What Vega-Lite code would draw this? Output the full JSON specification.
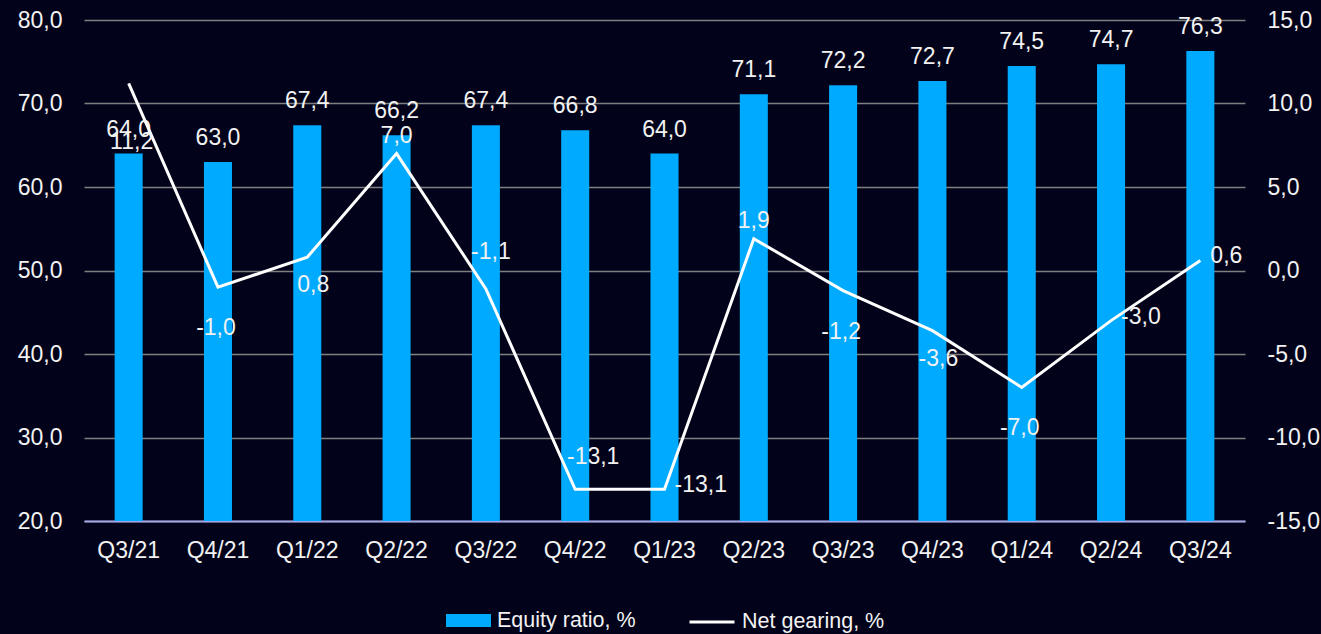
{
  "$schema": "https://vega.github.io/schema/vega-lite/v6.json",
  "autosize": {"type": "none"},
  "width": 1161,
  "height": 501,
  "padding": {"left": 84, "top": 20, "right": 76, "bottom": 113},
  "background": "#02031a",
  "config": {
    "view": {"stroke": null},
    "locale": {"number": {"decimal": ",", "thousands": " ", "grouping": [3], "currency": ["", ""], "minus": "-"}},
    "font": "Liberation Sans",
    "axis": {"labelFont": "Liberation Sans", "labelFontSize": 23, "labelColor": "#f2f2f2", "ticks": false, "title": null},
    "text": {"font": "Liberation Sans", "fontSize": 23, "fill": "#f2f2f2"},
    "legend": {"labelFont": "Liberation Sans", "labelFontSize": 21.5, "labelColor": "#f2f2f2", "title": null, "orient": "none"}
  },
  "data": {"values": [
    {"q": "Q3/21", "equity": 64.0, "gearing": 11.2},
    {"q": "Q4/21", "equity": 63.0, "gearing": -1.0},
    {"q": "Q1/22", "equity": 67.4, "gearing": 0.8},
    {"q": "Q2/22", "equity": 66.2, "gearing": 7.0},
    {"q": "Q3/22", "equity": 67.4, "gearing": -1.1},
    {"q": "Q4/22", "equity": 66.8, "gearing": -13.1},
    {"q": "Q1/23", "equity": 64.0, "gearing": -13.1},
    {"q": "Q2/23", "equity": 71.1, "gearing": 1.9},
    {"q": "Q3/23", "equity": 72.2, "gearing": -1.2},
    {"q": "Q4/23", "equity": 72.7, "gearing": -3.6},
    {"q": "Q1/24", "equity": 74.5, "gearing": -7.0},
    {"q": "Q2/24", "equity": 74.7, "gearing": -3.0},
    {"q": "Q3/24", "equity": 76.3, "gearing": 0.6}
  ]},
  "encoding": {
    "x": {"field": "q", "type": "ordinal", "sort": null,
      "scale": {"paddingInner": 0.686, "paddingOuter": 0.343},
      "axis": {"labelAngle": 0, "labelPadding": 18, "domainColor": "#a3a6e6", "domainWidth": 2, "grid": false}}
  },
  "layer": [
    {
      "encoding": {
        "y": {"field": "equity", "type": "quantitative",
          "scale": {"domain": [20, 80], "nice": false, "zero": false},
          "axis": {"orient": "left", "values": [20, 30, 40, 50, 60, 70, 80], "format": ".1f", "labelPadding": 22, "domain": false, "grid": true, "gridColor": "#7f7f7f", "gridWidth": 1.3}}
      },
      "layer": [
        {"mark": {"type": "bar", "clip": true},
         "encoding": {
           "y2": {"datum": 20},
           "fill": {"datum": "Equity ratio, %", "type": "nominal",
           "scale": {"range": ["#00aaff"]},
           "legend": {"legendX": 362, "legendY": 578, "symbolType": "M-1,-0.29h2v0.58h-2z", "symbolSize": 2025, "symbolStrokeWidth": 0, "labelOffset": 6}}}},
        {"mark": {"type": "text", "baseline": "alphabetic", "dy": -17},
         "encoding": {"text": {"field": "equity", "type": "quantitative", "format": ".1f"}}}
      ]
    },
    {
      "encoding": {
        "y": {"field": "gearing", "type": "quantitative",
          "scale": {"domain": [-15, 15], "nice": false, "zero": false},
          "axis": {"orient": "right", "values": [-15, -10, -5, 0, 5, 10, 15], "format": ".1f", "labelPadding": 22, "domain": false, "grid": false}}
      },
      "layer": [
        {"mark": {"type": "line", "strokeWidth": 3, "strokeJoin": "miter"},
         "encoding": {"stroke": {"datum": "Net gearing, %", "type": "nominal",
           "scale": {"range": ["#ffffff"]},
           "legend": {"legendX": 604, "legendY": 578, "symbolType": "stroke", "symbolSize": 2025, "symbolStrokeWidth": 3, "labelOffset": 6}}}},
        {"transform": [{"filter": {"field": "q", "oneOf": ["Q4/21", "Q3/23", "Q1/24"]}}],
         "mark": {"type": "text", "baseline": "middle", "dy": 41, "dx": -2},
         "encoding": {"text": {"field": "gearing", "type": "quantitative", "format": ".1f"}}},
        {"transform": [{"filter": {"field": "q", "oneOf": ["Q1/22", "Q4/23"]}}],
         "mark": {"type": "text", "baseline": "middle", "dy": 28, "dx": 6},
         "encoding": {"text": {"field": "gearing", "type": "quantitative", "format": ".1f"}}},
        {"transform": [{"filter": {"field": "q", "oneOf": ["Q3/21"]}}],
         "mark": {"type": "text", "baseline": "middle", "dy": 59, "dx": 3},
         "encoding": {"text": {"field": "gearing", "type": "quantitative", "format": ".1f"}}},
        {"transform": [{"filter": {"field": "q", "oneOf": ["Q2/22", "Q2/23"]}}],
         "mark": {"type": "text", "baseline": "middle", "dy": -18, "dx": 0},
         "encoding": {"text": {"field": "gearing", "type": "quantitative", "format": ".1f"}}},
        {"transform": [{"filter": {"field": "q", "oneOf": ["Q3/22"]}}],
         "mark": {"type": "text", "baseline": "middle", "dy": -37, "dx": 5},
         "encoding": {"text": {"field": "gearing", "type": "quantitative", "format": ".1f"}}},
        {"transform": [{"filter": {"field": "q", "oneOf": ["Q4/22"]}}],
         "mark": {"type": "text", "baseline": "middle", "dy": -32, "dx": 18},
         "encoding": {"text": {"field": "gearing", "type": "quantitative", "format": ".1f"}}},
        {"transform": [{"filter": {"field": "q", "oneOf": ["Q1/23", "Q2/24", "Q3/24"]}}],
         "mark": {"type": "text", "baseline": "middle", "align": "left", "dy": -4, "dx": 10},
         "encoding": {"text": {"field": "gearing", "type": "quantitative", "format": ".1f"}}}
      ]
    }
  ],
  "resolve": {"scale": {"y": "independent"}}
}
